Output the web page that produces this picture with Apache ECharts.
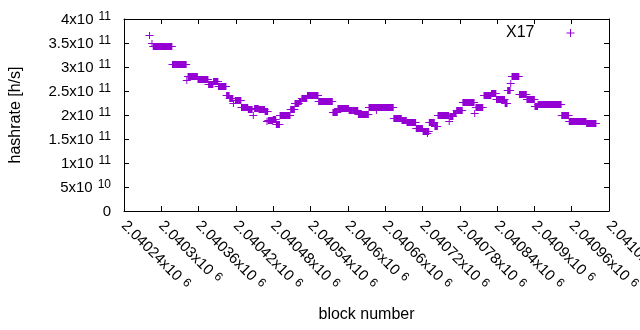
<!DOCTYPE html>
<html><head><meta charset="utf-8">
<script src="https://cdn.jsdelivr.net/npm/echarts@6/dist/echarts.min.js"></script>
<style>html,body{margin:0;padding:0;background:#fff}#c{width:640px;height:330px}</style>
</head><body><div id="c"></div>
<script>
// Runs of consecutive blocks sharing one hashrate estimate
const seriesName = 'X17';
const blockStart = [2040281,2040285,2040287,2040318,2040341,2040343,2040359,2040376,2040384,2040392,
  2040405,2040410,2040416,2040419,2040429,2040440,2040448,2040450,2040457,2040467,
  2040470,2040472,2040480,2040485,2040491,2040508,2040515,2040522,2040526,2040535,
  2040553,2040576,2040584,2040602,2040608,2040617,2040634,2040646,2040674,2040687,
  2040695,2040710,2040721,2040728,2040731,2040740,2040745,2040763,2040764,2040770,
  2040775,2040785,2040804,2040806,2040819,2040831,2040839,2040853,2040857,2040862,
  2040864,2040876,2040888,2040901,2040906,2040944,2040956,2040984];
const blockEnd = [2040281,2040285,2040317,2040340,2040341,2040358,2040375,2040383,2040391,2040404,
  2040409,2040415,2040416,2040428,2040439,2040446,2040448,2040456,2040466,2040471,
  2040470,2040479,2040484,2040490,2040507,2040514,2040521,2040525,2040534,2040552,
  2040575,2040583,2040601,2040607,2040616,2040633,2040673,2040646,2040686,2040694,
  2040709,2040720,2040730,2040728,2040739,2040744,2040762,2040763,2040769,2040774,
  2040784,2040803,2040804,2040817,2040830,2040838,2040852,2040856,2040861,2040862,
  2040875,2040887,2040900,2040905,2040943,2040955,2040983,2040999];
const hashrate = [3.671e11,3.496e11,3.440e11,3.067e11,2.719e11,2.817e11,2.750e11,2.642e11,2.713e11,2.610e11,
  2.427e11,2.350e11,2.240e11,2.317e11,2.162e11,2.115e11,2.010e11,2.142e11,2.121e11,2.073e11,
  1.885e11,1.900e11,1.927e11,1.817e11,2.004e11,2.135e11,2.250e11,2.296e11,2.358e11,2.423e11,
  2.298e11,2.062e11,2.146e11,2.094e11,2.108e11,2.027e11,2.162e11,2.094e11,1.942e11,1.902e11,
  1.862e11,1.733e11,1.660e11,1.621e11,1.844e11,1.765e11,2.004e11,1.885e11,1.985e11,2.046e11,
  2.094e11,2.271e11,2.046e11,2.165e11,2.421e11,2.465e11,2.337e11,2.256e11,2.527e11,2.662e11,
  2.812e11,2.444e11,2.333e11,2.192e11,2.231e11,2.004e11,1.881e11,1.837e11];

const xAxisMin = 2040240, xAxisMax = 2041020, xAxisStep = 60;
const yAxisMin = 0, yAxisMax = 4e11, yAxisStep = 5e10;
const xAxisTitle = 'block number';
const yAxisTitle = 'hashrate [h/s]';

const FONT = "'Liberation Sans', Arial, sans-serif";
const COLOR = '#9400d3';

function sci(v) {
  if (v === 0) return '{m|0}';
  const e = Math.floor(Math.log10(Math.abs(v)) + 1e-9);
  const m = parseFloat((v / Math.pow(10, e)).toFixed(6));
  return '{m|' + m + 'x10}{s|' + e + '}';
}
const rich = {
  m: {fontSize: 15, fontFamily: FONT, color: '#000', lineHeight: 16, padding: [4, 0, 0, 0], verticalAlign: 'bottom'},
  s: {fontSize: 12, fontFamily: FONT, color: '#000', lineHeight: 12, padding: [0, 0, 0, 5], verticalAlign: 'top'}
};
const axisBase = {
  type: 'value',
  axisLine: {show: true, onZero: false, lineStyle: {color: '#000', width: 1}},
  axisTick: {show: true, inside: true, length: 5, lineStyle: {color: '#000', width: 1}},
  splitLine: {show: false}
};

const chart = echarts.init(document.getElementById('c'), null, {renderer: 'canvas'});
chart.setOption({
  animation: false,
  backgroundColor: '#fff',
  grid: {left: 124, right: 31, top: 19, bottom: 119, containLabel: false, outerBoundsMode: 'none'},
  legend: {
    data: [{name: seriesName, icon: 'path://M3.5,0h1v3.5h3.5v1h-3.5v3.5h-1v-3.5h-3.5v-1h3.5z'}],
    left: 506, top: 25, padding: 0, align: 'right', itemWidth: 8, itemHeight: 8,
    textStyle: {fontSize: 16, fontFamily: FONT, color: '#000', padding: [0, 27, 0, 0]},
    selectedMode: false
  },
  xAxis: [
    Object.assign({}, axisBase, {
      position: 'bottom', min: xAxisMin, max: xAxisMax, interval: xAxisStep,
      axisLabel: {rotate: -45, margin: 12, formatter: sci, rich: rich, showMinLabel: true, showMaxLabel: true, hideOverlap: false},
      name: xAxisTitle, nameLocation: 'middle', nameGap: 96,
      nameTextStyle: {fontSize: 16, fontFamily: FONT, color: '#000'}
    }),
    Object.assign({}, axisBase, {
      position: 'top', min: xAxisMin, max: xAxisMax, interval: xAxisStep,
      axisLabel: {show: false}
    })
  ],
  yAxis: [
    Object.assign({}, axisBase, {
      position: 'left', min: yAxisMin, max: yAxisMax, interval: yAxisStep,
      axisLabel: {margin: 13, formatter: sci, rich: rich, showMinLabel: true, showMaxLabel: true},
      name: yAxisTitle, nameLocation: 'middle', nameGap: 100, nameRotate: 90,
      nameTextStyle: {fontSize: 16, fontFamily: FONT, color: '#000'}
    }),
    Object.assign({}, axisBase, {
      position: 'right', min: yAxisMin, max: yAxisMax, interval: yAxisStep,
      axisLabel: {show: false}
    })
  ],
  series: [{
    name: seriesName,
    type: 'custom',
    xAxisIndex: 0, yAxisIndex: 0,
    itemStyle: {color: COLOR},
    encode: {x: [0, 1], y: 2},
    data: blockStart.map((s, i) => [s, blockEnd[i], hashrate[i]]),
    renderItem: function (params, api) {
      const a = api.coord([api.value(0), api.value(2)]);
      const b = api.coord([api.value(1), api.value(2)]);
      const h = 3.5;
      const y = Math.round(a[1]) + 0.5;
      return {
        type: 'group',
        children: [
          {type: 'rect', shape: {x: a[0] - 0.5, y: y - h, width: b[0] - a[0] + 1, height: 2 * h}, style: {fill: COLOR}},
          {type: 'line', shape: {x1: a[0] - h - 0.5, y1: y, x2: b[0] + h + 0.5, y2: y}, style: {stroke: COLOR, lineWidth: 1}}
        ]
      };
    }
  }]
});
</script></body></html>
